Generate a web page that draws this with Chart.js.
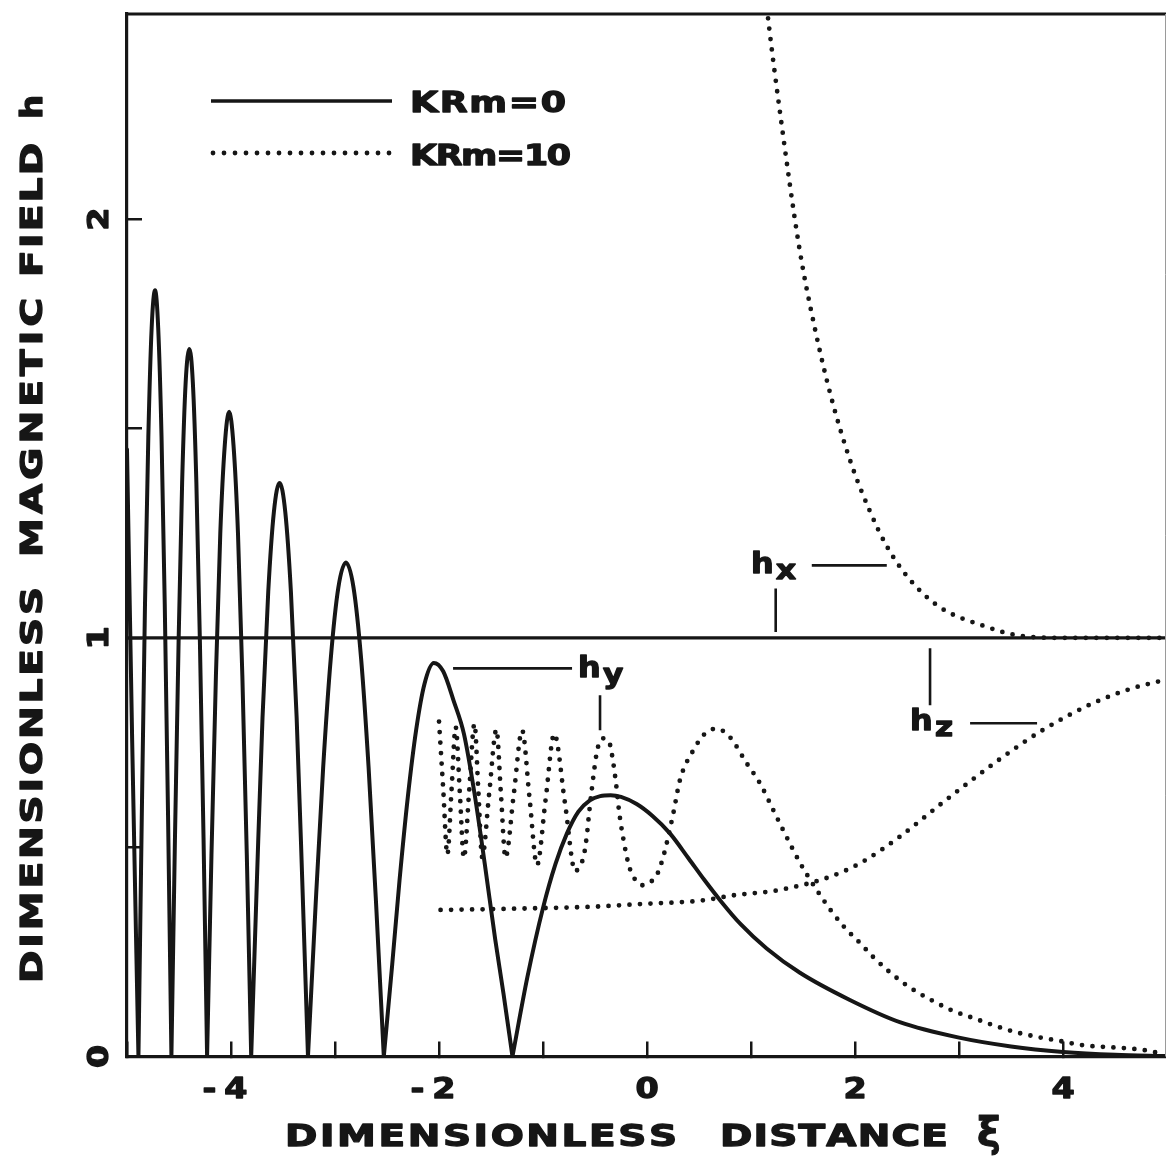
<!DOCTYPE html>
<html>
<head>
<meta charset="utf-8">
<script src="https://cdn.jsdelivr.net/npm/chart.js@4.4.1/dist/chart.umd.min.js"></script>
<style>
  html, body { margin: 0; padding: 0; background: #fff; overflow: hidden; }
  canvas { display: block; }
</style>
</head>
<body>
<canvas id="chart" width="1166" height="1162"></canvas>
<script>
const ink = "#161616";

// KRm = 0, solid curves
const hyXi0 = [
  -5.0, -4.95, -4.89,
  -4.858, -4.827, -4.795, -4.763, -4.73, -4.70, -4.668, -4.637, -4.605, -4.573,
  -4.539, -4.504, -4.470, -4.436, -4.40, -4.367, -4.333, -4.299, -4.264, -4.23,
  -4.188, -4.145, -4.103, -4.06, -4.018, -3.976, -3.933, -3.891, -3.848, -3.806,
  -3.751, -3.697, -3.642, -3.588, -3.533, -3.478, -3.424, -3.369, -3.315, -3.26,
  -3.187, -3.114, -3.041, -2.968, -2.895, -2.822, -2.749, -2.677, -2.604, -2.531,
  -2.45, -2.38, -2.30, -2.22, -2.14, -2.05, -1.96, -1.86, -1.76, -1.66, -1.56, -1.46, -1.38, -1.294,
  -1.15, -1.0, -0.88, -0.77, -0.66, -0.55, -0.45, -0.35, -0.25, -0.1, 0.05, 0.22, 0.4, 0.55,
  0.7, 0.9, 1.15, 1.47, 1.95, 2.43, 3.0, 3.5, 4.0, 4.5, 4.98
];
const hy0 = [
  1.45, 0.75, 0,
  0.57, 1.08, 1.48, 1.74, 1.83, 1.74, 1.48, 1.08, 0.57, 0,
  0.52, 0.99, 1.37, 1.61, 1.69, 1.61, 1.37, 0.99, 0.52, 0,
  0.48, 0.91, 1.25, 1.46, 1.54, 1.46, 1.25, 0.91, 0.48, 0,
  0.42, 0.81, 1.11, 1.30, 1.37, 1.30, 1.11, 0.81, 0.42, 0,
  0.36, 0.69, 0.95, 1.12, 1.18, 1.12, 0.95, 0.69, 0.36, 0,
  0.22, 0.42, 0.62, 0.78, 0.89, 0.94, 0.92, 0.85, 0.77, 0.63, 0.46, 0.28, 0.15, 0,
  0.19, 0.355, 0.46, 0.533, 0.585, 0.612, 0.622, 0.624, 0.62, 0.603, 0.575, 0.533, 0.473, 0.422,
  0.374, 0.316, 0.258, 0.2, 0.135, 0.082, 0.045, 0.024, 0.011, 0.004, 0.001
];
const hxXi0 = [-5.0, 4.98];
const hx0 = [1, 1];

// KRm = 10, dotted curves
const hyXi10 = [
  -2.00, -1.96, -1.92, -1.88, -1.84, -1.80, -1.761, -1.71, -1.659, -1.622, -1.585, -1.517,
  -1.448, -1.405, -1.361, -1.281, -1.201, -1.13, -1.058, -0.975, -0.892, -0.79, -0.69, -0.644,
  -0.61, -0.58, -0.555, -0.53, -0.505, -0.484, -0.455, -0.42, -0.385, -0.356, -0.33, -0.30,
  -0.266, -0.228, -0.18, -0.147, -0.1, -0.051, 0.02, 0.093, 0.156, 0.252, 0.316, 0.444,
  0.556, 0.668, 0.796, 0.959, 1.087, 1.215, 1.31, 1.47, 1.615, 1.779, 1.904, 2.048,
  2.173, 2.317, 2.452, 2.596, 2.769, 2.942, 3.135, 3.327, 3.548, 3.75, 3.97, 4.19,
  4.385, 4.596, 4.76, 4.93
];
const hy10 = [
  0.80, 0.64, 0.482, 0.635, 0.787, 0.63, 0.474, 0.635, 0.795, 0.635, 0.476, 0.63,
  0.781, 0.628, 0.475, 0.627, 0.779, 0.618, 0.457, 0.614, 0.771, 0.607, 0.442, 0.457,
  0.477, 0.525, 0.586, 0.64, 0.69, 0.725, 0.752, 0.76, 0.757, 0.745, 0.71, 0.656,
  0.58, 0.52, 0.461, 0.437, 0.418, 0.409, 0.415, 0.433, 0.477, 0.58, 0.66, 0.731,
  0.771, 0.783, 0.763, 0.70, 0.652, 0.588, 0.54, 0.463, 0.404, 0.345, 0.307, 0.271,
  0.238, 0.205, 0.178, 0.154, 0.130, 0.109, 0.092, 0.075, 0.058, 0.047, 0.037, 0.027,
  0.023, 0.020, 0.016, 0.008
];
const hzXi10 = [-1.985, -1.5, -1.09, -0.5, -0.07, 0.54, 0.83, 1.21, 1.34, 1.66, 1.915, 2.10, 2.43, 2.83, 3.38, 3.80, 4.28, 4.66, 4.97];
const hz10 = [0.35, 0.352, 0.354, 0.358, 0.364, 0.373, 0.385, 0.395, 0.401, 0.421, 0.445, 0.469, 0.525, 0.604, 0.708, 0.779, 0.843, 0.879, 0.899];
const hxXi10 = [1.12, 1.17, 1.275, 1.467, 1.611, 1.77, 1.963, 2.14, 2.30, 2.52, 2.81, 3.22, 3.61, 4.0, 4.98];
const hx10 = [2.58, 2.466, 2.261, 1.927, 1.742, 1.575, 1.416, 1.304, 1.221, 1.141, 1.074, 1.030, 1.004, 1.0, 1.0];

// ticks and texts
const xTickValues = [-4, -2, 0, 2, 4];
const xTickLabels = ["-4", "-2", "0", "2", "4"];
const yTickValues = [0, 1, 2];
const yTickLabels = ["0", "1", "2"];
const legendLabels = ["KRm=0", "KRm=10"];
const noteSubs = ["x", "y", "z"];

const pts = (xs, ys) => xs.map((v, i) => ({ x: v, y: ys[i] }));

// break the rectified curve at each zero so the cusps stay sharp
function lobes(xs, ys) {
  const out = [];
  xs.forEach((v, i) => {
    out.push({ x: v, y: ys[i] });
    if (ys[i] === 0 && i > 0 && i < xs.length - 1) {
      out.push({ x: v, y: null });
      out.push({ x: v, y: 0 });
    }
  });
  return out;
}

const solid = (label, data, width) => ({
  label, data, showLine: true, pointRadius: 0, spanGaps: false,
  borderColor: ink, borderWidth: width,
  cubicInterpolationMode: "monotone",
  borderJoinStyle: "round", borderCapStyle: "round"
});
const dotted = (label, data) => ({
  label, data, showLine: true, pointRadius: 0,
  borderColor: ink, borderWidth: 4.8,
  borderDash: [0, 10.5], borderCapStyle: "round",
  cubicInterpolationMode: "monotone"
});

// spread the letters of a word over a given length
function spaced(ctx, text, start, end, base, size, stretch) {
  ctx.font = `bold ${size}px "DejaVu Sans"`;
  ctx.textAlign = "left";
  ctx.textBaseline = "alphabetic";
  ctx.lineWidth = 1.3;
  ctx.lineJoin = "round";
  const chars = [...text];
  const ws = chars.map((c) => ctx.measureText(c).width * stretch);
  const total = ws.reduce((s, w) => s + w, 0);
  const gap = chars.length > 1 ? (end - start - total) / (chars.length - 1) : 0;
  let cx = start;
  chars.forEach((c, i) => {
    ctx.save();
    ctx.translate(cx, base);
    ctx.scale(stretch, 1);
    ctx.fillText(c, 0, 0);
    ctx.strokeText(c, 0, 0);
    ctx.restore();
    cx += ws[i] + gap;
  });
}

function centered(ctx, text, cx, base, size, gap, stretch) {
  ctx.font = `bold ${size}px "DejaVu Sans"`;
  const chars = [...text];
  const ws = chars.map((c) => ctx.measureText(c).width * stretch);
  const total = ws.reduce((s, w) => s + w, 0) + gap * (chars.length - 1);
  spaced(ctx, text, cx - total / 2, cx + total / 2, base, size, stretch);
}

const overlay = {
  id: "overlay",
  afterDraw(chart) {
    const { ctx, chartArea: a } = chart;
    const x = chart.scales.x, y = chart.scales.y;
    ctx.save();
    ctx.fillStyle = ink;
    ctx.strokeStyle = ink;
    ctx.lineCap = "butt";

    // frame: top and a faint right edge
    ctx.lineWidth = 3.2;
    ctx.beginPath();
    ctx.moveTo(a.left - 1.5, a.top);
    ctx.lineTo(a.right + 1, a.top);
    ctx.stroke();
    ctx.lineWidth = 1;
    ctx.strokeStyle = "#9a9a9a";
    ctx.beginPath();
    ctx.moveTo(a.right + 0.5, a.top);
    ctx.lineTo(a.right + 0.5, a.bottom);
    ctx.stroke();
    ctx.strokeStyle = ink;

    // x tick labels
    xTickValues.forEach((v, i) => {
      const two = xTickLabels[i].length > 1;
      centered(ctx, xTickLabels[i], x.getPixelForValue(v) - (two ? 6 : 0), a.bottom + 41, 29, two ? 8 : 0, 1.15);
    });

    // y tick labels, turned like the axis title
    yTickValues.forEach((v, i) => {
      ctx.save();
      ctx.translate(108, y.getPixelForValue(v));
      ctx.rotate(-Math.PI / 2);
      centered(ctx, yTickLabels[i], 0, 0, 29, 0, 1.15);
      ctx.restore();
    });

    // axis titles
    spaced(ctx, "DIMENSIONLESS", 285, 677, 1146, 30, 1.3);
    spaced(ctx, "DISTANCE", 720, 948, 1146, 30, 1.3);
    ctx.font = 'bold 40px "DejaVu Sans"';
    ctx.lineWidth = 1;
    ctx.fillText("ξ", 977, 1146);
    ctx.strokeText("ξ", 977, 1146);

    ctx.save();
    ctx.translate(42, 983);
    ctx.rotate(-Math.PI / 2);
    spaced(ctx, "DIMENSIONLESS", 0, 396, 0, 30, 1.3);
    spaced(ctx, "MAGNETIC", 426, 685, 0, 30, 1.3);
    spaced(ctx, "FIELD", 706, 840, 0, 30, 1.3);
    spaced(ctx, "h", 864, 888, 0, 31, 1.1);
    ctx.restore();

    // legend
    ctx.lineWidth = 3.6;
    ctx.beginPath();
    ctx.moveTo(211, 101);
    ctx.lineTo(392, 101);
    ctx.stroke();
    ctx.save();
    ctx.lineWidth = 4.8;
    ctx.lineCap = "round";
    ctx.setLineDash([0, 11]);
    ctx.beginPath();
    ctx.moveTo(213, 153);
    ctx.lineTo(391, 153);
    ctx.stroke();
    ctx.restore();
    spaced(ctx, legendLabels[0], 410, 566, 112, 29, 1.25);
    spaced(ctx, legendLabels[1], 410, 571, 165, 29, 1.2);

    // component labels with leader lines (data units)
    const noteXi = [1.0, -0.663, 2.529];
    const noteH = [1.154, 0.906, 0.779];
    const leadFrom = [1.584, -1.865, 3.106];
    const leadTo = [2.305, -0.721, 3.75];
    const leadH = [1.173, 0.927, 0.796];
    const tickXi = [1.237, -0.452, 2.721];
    const tickTop = [1.118, 0.863, 0.975];
    const tickBot = [1.014, 0.779, 0.839];
    noteSubs.forEach((s, i) => {
      const px = x.getPixelForValue(noteXi[i]);
      const py = y.getPixelForValue(noteH[i]);
      spaced(ctx, "h", px, px, py, 29, 1.1);
      spaced(ctx, s, px + 25, px + 25, py + 6, 27, 1.15);
      ctx.lineWidth = 2.6;
      ctx.beginPath();
      ctx.moveTo(x.getPixelForValue(leadFrom[i]), y.getPixelForValue(leadH[i]));
      ctx.lineTo(x.getPixelForValue(leadTo[i]), y.getPixelForValue(leadH[i]));
      ctx.moveTo(x.getPixelForValue(tickXi[i]), y.getPixelForValue(tickTop[i]));
      ctx.lineTo(x.getPixelForValue(tickXi[i]), y.getPixelForValue(tickBot[i]));
      ctx.stroke();
    });
    ctx.restore();
  }
};

const axisGrid = { display: true, drawOnChartArea: false, drawTicks: true, tickLength: -15, lineWidth: 2.5, color: ink };
const axisBorder = { display: true, width: 3.2, color: ink };

new Chart(document.getElementById("chart"), {
  type: "scatter",
  data: {
    datasets: [
      solid("hx KRm=0", pts(hxXi0, hx0), 3.4),
      solid("hy KRm=0", lobes(hyXi0, hy0), 4),
      dotted("hx KRm=10", pts(hxXi10, hx10)),
      dotted("hy KRm=10", pts(hyXi10, hy10)),
      dotted("hz KRm=10", pts(hzXi10, hz10))
    ]
  },
  options: {
    responsive: false,
    animation: false,
    events: [],
    layout: { padding: { top: 14, right: 1, left: 0, bottom: 0 } },
    plugins: { legend: { display: false }, tooltip: { enabled: false } },
    scales: {
      x: {
        type: "linear", position: "bottom", min: -5, max: 4.98,
        afterFit: (s) => { s.height = 105.5; },
        ticks: { stepSize: 1, includeBounds: false, display: false },
        grid: axisGrid, border: axisBorder
      },
      y: {
        type: "linear", position: "left", min: 0, max: 2.49,
        afterFit: (s) => { s.width = 127; },
        ticks: { stepSize: 0.5, includeBounds: false, display: false },
        grid: axisGrid, border: axisBorder
      }
    }
  },
  plugins: [overlay]
});
</script>
</body>
</html>
